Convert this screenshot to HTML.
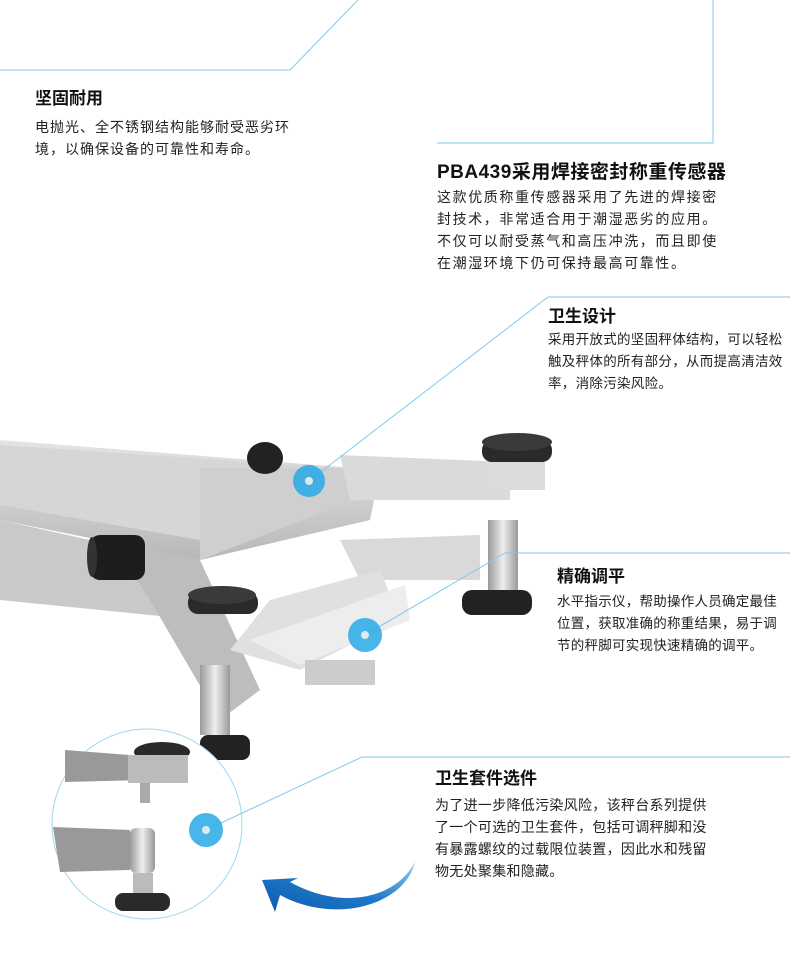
<!DOCTYPE html>
<html><head><meta charset="utf-8"><style>
body{margin:0;width:790px;height:974px;background:#fff;position:relative;overflow:hidden;font-family:"Liberation Sans","Noto Sans CJK SC",sans-serif;color:#222}
.t{position:absolute;font-weight:bold;font-size:17px;color:#111}
.b{position:absolute;font-size:13.5px;line-height:22px;color:#222;white-space:nowrap}
svg{position:absolute;left:0;top:0}
</style></head><body>
<svg width="790" height="974" viewBox="0 0 790 974">
<defs>
<linearGradient id="m" x1="0" y1="0" x2="0" y2="1"><stop offset="0" stop-color="#e4e4e4"/><stop offset="1" stop-color="#b8b8b8"/></linearGradient>
<linearGradient id="c" x1="0" y1="0" x2="1" y2="0"><stop offset="0" stop-color="#9a9a9a"/><stop offset=".5" stop-color="#eee"/><stop offset="1" stop-color="#999"/></linearGradient>
<linearGradient id="ar" x1="1" y1="0" x2="0" y2="1"><stop offset="0" stop-color="#8fd0f5"/><stop offset=".5" stop-color="#1f78c8"/><stop offset="1" stop-color="#0d5bb0"/></linearGradient>
</defs>
<polygon points="0,440 380,470 370,520 200,560 0,520" fill="url(#m)"/>
<polygon points="0,445 370,470 360,500 200,540 0,505" fill="#d6d6d6"/>
<polygon points="200,468 360,468 385,488 200,560" fill="#cfcfcf"/>
<polygon points="340,455 510,462 510,500 350,500" fill="#dadada"/>
<polygon points="0,520 180,560 200,620 0,600" fill="#c9c9c9"/>
<polygon points="110,540 200,560 260,690 220,720 150,600" fill="#bdbdbd"/>
<polygon points="340,540 480,535 480,580 360,580" fill="#d9d9d9"/>
<polygon points="270,600 380,570 400,620 300,670 230,650" fill="#e0e0e0"/>
<polygon points="250,640 405,585 410,620 300,665" fill="#ededed"/>
<rect x="305" y="660" width="70" height="25" fill="#ccc"/>
<ellipse cx="265" cy="458" rx="18" ry="16" fill="#222"/>
<rect x="90" y="535" width="55" height="45" rx="10" fill="#1d1d1d"/>
<ellipse cx="92" cy="557" rx="5" ry="20" fill="#333"/>
<rect x="482" y="440" width="70" height="22" rx="10" fill="#2a2a2a"/>
<ellipse cx="517" cy="442" rx="35" ry="9" fill="#3a3a3a"/>
<rect x="490" y="462" width="55" height="28" fill="#dcdcdc"/>
<rect x="488" y="520" width="30" height="70" fill="url(#c)"/>
<rect x="462" y="590" width="70" height="25" rx="10" fill="#222"/>
<rect x="188" y="592" width="70" height="22" rx="10" fill="#2a2a2a"/>
<ellipse cx="222" cy="595" rx="34" ry="9" fill="#3a3a3a"/>
<rect x="200" y="665" width="30" height="70" fill="url(#c)"/>
<rect x="200" y="735" width="50" height="25" rx="8" fill="#222"/>
<circle cx="147" cy="824" r="95" fill="#fff" stroke="#9fd6f1" stroke-width="1"/>
<polygon points="65,750 130,755 140,780 65,782" fill="#999"/>
<ellipse cx="162" cy="752" rx="28" ry="10" fill="#2a2a2a"/>
<rect x="128" y="755" width="60" height="28" fill="#bbb"/>
<rect x="140" y="783" width="10" height="20" fill="#aaa"/>
<polygon points="53,827 130,830 130,870 60,872" fill="#999"/>
<rect x="130" y="828" width="25" height="45" rx="6" fill="url(#c)"/>
<rect x="133" y="873" width="20" height="25" fill="#bbb"/>
<rect x="115" y="893" width="55" height="18" rx="8" fill="#2a2a2a"/>
<path d="M415,862 C395,900 340,910 290,882 L298,878 L262,880 L275,912 L280,895 C335,925 405,905 415,862 Z" fill="url(#ar)"/>
<g stroke="#7ccbee" stroke-width="1" fill="none">
<polyline points="358,0 290,70 0,70"/>
<polyline points="713,0 713,143 437,143"/>
<polyline points="790,297 548,297 309,481"/>
<polyline points="790,553 505,553 365,635"/>
<polyline points="790,757 362,757 206,830"/>
</g>
<g fill="#29a9e8" opacity=".85">
<circle cx="309" cy="481" r="16"/><circle cx="365" cy="635" r="17"/><circle cx="206" cy="830" r="17"/>
</g>
<g fill="#dfe9ee"><circle cx="309" cy="481" r="4"/><circle cx="365" cy="635" r="4"/><circle cx="206" cy="830" r="4"/></g>
</svg>
<div class="t" style="left:35px;top:84px">坚固耐用</div>
<div class="b" style="left:35px;top:116px;font-size:14px;letter-spacing:1px">电抛光、全不锈钢结构能够耐受恶劣环<br>境，以确保设备的可靠性和寿命。</div>
<div class="t" style="left:437px;top:157px;font-size:19px;letter-spacing:0.5px">PBA439采用焊接密封称重传感器</div>
<div class="b" style="left:437px;top:186px;font-size:14px;letter-spacing:1.6px">这款优质称重传感器采用了先进的焊接密<br>封技术，非常适合用于潮湿恶劣的应用。<br>不仅可以耐受蒸气和高压冲洗，而且即使<br>在潮湿环境下仍可保持最高可靠性。</div>
<div class="t" style="left:548px;top:302px">卫生设计</div>
<div class="b" style="left:548px;top:329px;font-size:13.5px;letter-spacing:0.3px">采用开放式的坚固秤体结构，可以轻松<br>触及秤体的所有部分，从而提高清洁效<br>率，消除污染风险。</div>
<div class="t" style="left:557px;top:562px">精确调平</div>
<div class="b" style="left:557px;top:591px;font-size:13.5px;letter-spacing:0.25px">水平指示仪，帮助操作人员确定最佳<br>位置，获取准确的称重结果，易于调<br>节的秤脚可实现快速精确的调平。</div>
<div class="t" style="left:435px;top:764px">卫生套件选件</div>
<div class="b" style="left:435px;top:794px;font-size:14px;letter-spacing:0.3px">为了进一步降低污染风险，该秤台系列提供<br>了一个可选的卫生套件，包括可调秤脚和没<br>有暴露螺纹的过载限位装置，因此水和残留<br>物无处聚集和隐藏。</div>
</body></html>
